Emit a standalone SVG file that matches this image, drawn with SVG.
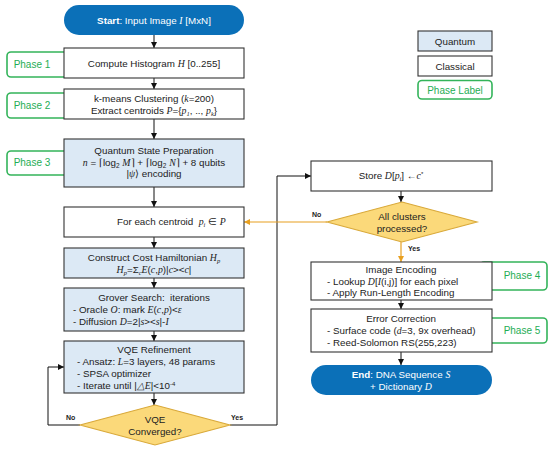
<svg xmlns="http://www.w3.org/2000/svg" width="550" height="449" viewBox="0 0 550 449">
<defs>
<marker id="ah" viewBox="0 0 10 10" refX="10" refY="5" markerWidth="6" markerHeight="6" orient="auto" markerUnits="userSpaceOnUse"><path d="M0,0 L10,5 L0,10 z" fill="#111"/></marker>
<marker id="ao" viewBox="0 0 10 10" refX="10" refY="5" markerWidth="6" markerHeight="6" orient="auto" markerUnits="userSpaceOnUse"><path d="M0,0 L10,5 L0,10 z" fill="#E8A020"/></marker>
</defs>
<style>
text{font-family:"Liberation Sans",Arial,sans-serif;font-size:9.8px;fill:#222}
.c{text-anchor:middle}
.m{font-family:"Liberation Serif","Times New Roman",serif;font-style:italic}
.cl{fill:#fff;stroke:#333;stroke-width:1.1}
.qu{fill:#DCE9F5;stroke:#333;stroke-width:1.1}
.pill{fill:#0B70B8}
.pt{fill:#fff}
.ph{fill:#fff;stroke:#33B45A;stroke-width:1.6}
.pht{fill:#1EAD55;font-size:10px;text-anchor:middle}
.dm{fill:#FBD97A;stroke:#D9A93A;stroke-width:1.1}
.ln{fill:none;stroke:#111;stroke-width:1}
.lo{fill:none;stroke:#E8A020;stroke-width:1.2}
.lb{font-size:7px;font-weight:bold}
</style>
<rect width="550" height="449" fill="#fff"/>

<g id="legend">
<rect class="qu" x="418" y="31" width="74" height="20"/>
<text class="c" x="455" y="44.5">Quantum</text>
<rect class="cl" x="418" y="56" width="74" height="20"/>
<text class="c" x="455" y="69.5">Classical</text>
<rect class="ph" x="418" y="80.5" width="74" height="18.5" rx="4"/>
<text class="pht" x="455" y="93.5">Phase Label</text>
</g>

<g id="phase1"><rect class="ph" x="7" y="52" width="70" height="25" rx="4"/><text class="pht" x="32" y="68">Phase 1</text></g>
<g id="phase2"><rect class="ph" x="7" y="93" width="70" height="25" rx="4"/><text class="pht" x="32" y="109">Phase 2</text></g>
<g id="phase3"><rect class="ph" x="7" y="151" width="70" height="24" rx="4"/><text class="pht" x="32" y="166">Phase 3</text></g>
<g id="phase4"><rect class="ph" x="480" y="262" width="67" height="28" rx="4"/><text class="pht" x="522" y="279">Phase 4</text></g>
<g id="phase5"><rect class="ph" x="480" y="318" width="67" height="25" rx="4"/><text class="pht" x="522" y="334">Phase 5</text></g>

<g id="connectors">
<line class="ln" x1="154" y1="35" x2="154" y2="48" marker-end="url(#ah)"/>
<line class="ln" x1="154" y1="78" x2="154" y2="89" marker-end="url(#ah)"/>
<line class="ln" x1="154" y1="119" x2="154" y2="139" marker-end="url(#ah)"/>
<line class="ln" x1="154" y1="187" x2="154" y2="207" marker-end="url(#ah)"/>
<line class="ln" x1="154" y1="237" x2="154" y2="248" marker-end="url(#ah)"/>
<line class="ln" x1="154" y1="278" x2="154" y2="288" marker-end="url(#ah)"/>
<line class="ln" x1="154" y1="331" x2="154" y2="341" marker-end="url(#ah)"/>
<line class="ln" x1="154" y1="393" x2="154" y2="405" marker-end="url(#ah)"/>
<polyline class="ln" points="80,425 48,425 48,367 64,367" marker-end="url(#ah)"/>
<polyline class="ln" points="230,425 277,425 277,176 311,176" marker-end="url(#ah)"/>
<line class="ln" x1="401" y1="191" x2="401" y2="202" marker-end="url(#ah)"/>
<line class="lo" x1="327" y1="222" x2="244" y2="222" marker-end="url(#ao)"/>
<line class="lo" x1="401" y1="242" x2="401" y2="262" marker-end="url(#ao)"/>
<line class="ln" x1="401" y1="300" x2="401" y2="309" marker-end="url(#ah)"/>
<line class="ln" x1="401" y1="352" x2="401" y2="365" marker-end="url(#ah)"/>
<text class="lb" x="66" y="420">No</text>
<text class="lb" x="231" y="420">Yes</text>
<text class="lb" x="312" y="217">No</text>
<text class="lb" x="408" y="251">Yes</text>
</g>

<g id="start">
<rect class="pill" x="64" y="5" width="180" height="30" rx="15"/>
<text class="c pt" x="154" y="24"><tspan font-weight="bold" class="pt">Start</tspan>: Input Image <tspan class="m pt">I</tspan> [MxN]</text>
</g>

<g id="histogram">
<rect class="cl" x="64" y="48" width="180" height="30"/>
<text class="c" x="154" y="67">Compute Histogram <tspan class="m">H</tspan> [0..255]</text>
</g>

<g id="kmeans">
<rect class="cl" x="64" y="89" width="180" height="30"/>
<text class="c" x="154" y="102">k-means Clustering (<tspan class="m">k</tspan>=200)</text>
<text class="c" x="154" y="114">Extract centroids <tspan class="m">P</tspan>={<tspan class="m">p</tspan><tspan class="m" font-size="6.5" dy="2">1</tspan><tspan dy="-2">, .., </tspan><tspan class="m">p</tspan><tspan class="m" font-size="6.5" dy="2">k</tspan><tspan dy="-2">}</tspan></text>
</g>

<g id="qstate">
<rect class="qu" x="64" y="139" width="180" height="48"/>
<text class="c" x="154" y="154">Quantum State Preparation</text>
<text class="c" x="154" y="166"><tspan class="m">n</tspan> = ⌈log<tspan font-size="6.5" dy="2">2</tspan><tspan dy="-2"> </tspan><tspan class="m">M</tspan>⌉ + ⌈log<tspan font-size="6.5" dy="2">2</tspan><tspan dy="-2"> </tspan><tspan class="m">N</tspan>⌉ + 8 qubits</text>
<text class="c" x="154" y="177">|<tspan class="m">ψ</tspan>⟩ encoding</text>
</g>

<g id="foreach">
<rect class="cl" x="64" y="207" width="180" height="30"/>
<text x="117" y="225" xml:space="preserve">For each centroid  <tspan class="m">p</tspan><tspan class="m" font-size="6.5" dy="2">i</tspan><tspan dy="-2"> ∈ </tspan><tspan class="m">P</tspan></text>
</g>

<g id="hamiltonian">
<rect class="qu" x="64" y="248" width="180" height="30"/>
<text class="c" x="154" y="261">Construct Cost Hamiltonian <tspan class="m">H</tspan><tspan class="m" font-size="6.5" dy="2">p</tspan></text>
<text class="c" x="154" y="273"><tspan class="m">H</tspan><tspan class="m" font-size="6.5" dy="2">p</tspan><tspan dy="-2">=Σ</tspan><tspan class="m" font-size="6.5" dy="2">c</tspan><tspan class="m" dy="-2">E</tspan>(<tspan class="m">c</tspan>,<tspan class="m">p</tspan>)|<tspan class="m">c</tspan>&gt;&lt;<tspan class="m">c</tspan>|</text>
</g>

<g id="grover">
<rect class="qu" x="64" y="288" width="180" height="43"/>
<text class="c" x="154" y="301" xml:space="preserve">Grover Search:  iterations</text>
<text x="73" y="313">- Oracle <tspan class="m">O</tspan>: mark <tspan class="m">E</tspan>(<tspan class="m">c</tspan>,<tspan class="m">p</tspan>)&lt;<tspan class="m">ε</tspan></text>
<text x="73" y="325">- Diffusion <tspan class="m">D</tspan>=2|<tspan class="m">s</tspan>&gt;&lt;<tspan class="m">s</tspan>|-<tspan class="m">I</tspan></text>
</g>

<g id="vqe">
<rect class="qu" x="64" y="341" width="180" height="52"/>
<text class="c" x="154" y="353">VQE Refinement</text>
<text x="77" y="365">- Ansatz: <tspan class="m">L</tspan>=3 layers, 48 params</text>
<text x="77" y="377">- SPSA optimizer</text>
<text x="77" y="389">- Iterate until |<tspan class="m">△E</tspan>|&lt;10<tspan font-size="6" dy="-3">-4</tspan></text>
</g>

<g id="vqeconv">
<polygon class="dm" points="155,405 230,425 155,445 80,425"/>
<text class="c" x="155" y="423">VQE</text>
<text class="c" x="155" y="435">Converged?</text>
</g>

<g id="store">
<rect class="cl" x="311" y="161" width="181" height="30"/>
<text class="c" x="391" y="179">Store <tspan class="m">D</tspan>[<tspan class="m">p</tspan><tspan class="m" font-size="6.5" dy="2">i</tspan><tspan dy="-2">] ←</tspan><tspan class="m">c</tspan><tspan font-size="6" dy="-3">*</tspan></text>
</g>

<g id="allclusters">
<polygon class="dm" points="402,202 477,222 402,242 327,222"/>
<text class="c" x="402" y="220">All clusters</text>
<text class="c" x="402" y="232">processed?</text>
</g>

<g id="imgenc">
<rect class="cl" x="311" y="262" width="181" height="38"/>
<text class="c" x="401" y="273">Image Encoding</text>
<text x="327" y="285">- Lookup <tspan class="m">D</tspan>[<tspan class="m">I</tspan>(i,j)] for each pixel</text>
<text x="327" y="296">- Apply Run-Length Encoding</text>
</g>

<g id="errcorr">
<rect class="cl" x="311" y="309" width="181" height="43"/>
<text class="c" x="401" y="322">Error Correction</text>
<text x="327" y="334">- Surface code (<tspan class="m">d</tspan>=3, 9x overhead)</text>
<text x="327" y="346">- Reed-Solomon RS(255,223)</text>
</g>

<g id="end">
<rect class="pill" x="311" y="365" width="181" height="30" rx="15"/>
<text class="c pt" x="401" y="378"><tspan font-weight="bold" class="pt">End</tspan>: DNA Sequence <tspan class="m pt">S</tspan></text>
<text class="c pt" x="401" y="390">+ Dictionary <tspan class="m pt">D</tspan></text>
</g>
</svg>
